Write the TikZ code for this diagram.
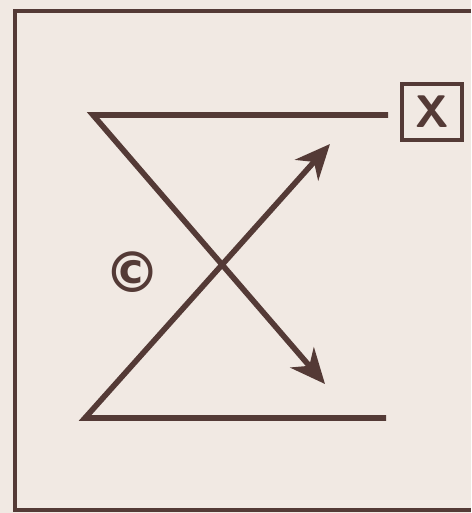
\documentclass[tikz,border=0pt]{standalone}
\usepackage{fontspec}
\usepackage{tikz}
\usetikzlibrary{arrows.meta, positioning}
\newfontfamily\symfont{DejaVu Sans}
\definecolor{inkbrown}{RGB}{84, 58, 54}
\definecolor{paper}{RGB}{241, 233, 227}

\begin{document}
\begin{tikzpicture}[
    x=0.02cm, y=-0.02cm,
    frame/.style={
        draw=inkbrown, line width=2.2pt
    },
    stroke/.style={
        draw=inkbrown, line width=3.2pt, line join=miter
    },
    flow/.style={
        stroke, -{Stealth[length=7mm, width=6.2mm, inset=2.2mm]}
    },
    markbox/.style={
        rectangle, draw=inkbrown, line width=2.4pt, minimum width=1.2cm, minimum height=1.12cm,
        inner sep=0pt, text=inkbrown, font=\sffamily\bfseries\fontsize{26}{26}\selectfont
    },
    copymark/.style={
        text=inkbrown, inner sep=0pt, font=\symfont\bfseries\fontsize{32}{32}\selectfont
    }
]

% Paper and bounding box
\fill[paper] (0,0) rectangle (471,513);
\useasboundingbox (0,0) rectangle (471,513);

% Outer frame (open on the right)
\draw[frame] (471,11) -- (15,11) -- (15,510) -- (471,510);

% Corners and arrow tips
\coordinate (topleft) at (93,115);
\coordinate (topright) at (388,115);
\coordinate (botleft) at (85,418);
\coordinate (botright) at (386,418);
\coordinate (uptip) at (330,144);
\coordinate (downtip) at (325,384);

% Labels
\node[markbox] (xbox) at (432,112) {X};
\node[copymark] (copy) at (133,272) {\textcopyright};

% Strokes
\draw[flow] (topright) -- (topleft) -- (downtip);
\draw[flow] (botright) -- (botleft) -- (uptip);

\end{tikzpicture}
\end{document}
